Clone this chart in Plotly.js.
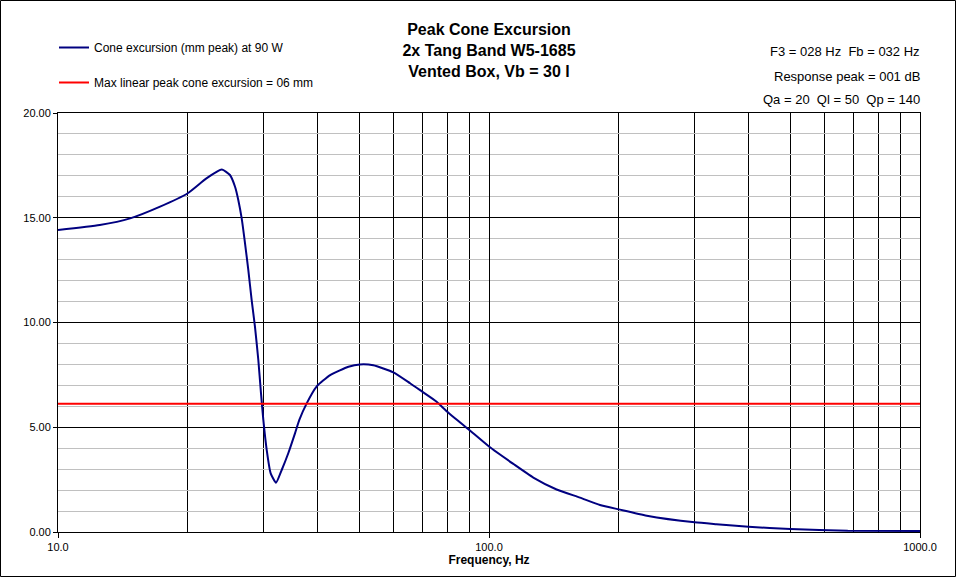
<!DOCTYPE html>
<html>
<head>
<meta charset="utf-8">
<script src="https://cdn.plot.ly/plotly-3.0.1.min.js"></script>
<style>
  html, body { margin: 0; padding: 0; background: #fff; }
  #chart { width: 957px; height: 577px; }
</style>
</head>
<body>
<div id="chart"></div>
<script>
// frequency (Hz) and peak cone excursion (mm)
const freqHz = [
  10, 12.5, 14.7, 17.25, 20, 22.1, 24.0, 25.06, 25.75, 26.2, 26.68, 27.16,
  27.64, 28.14, 28.64, 29.16, 29.58, 29.95, 30.5, 31.15, 32.05, 33.04, 34.22,
  35.47, 36.3, 37.76, 39.8, 42.8, 47.2, 50.2, 53.9, 60, 65.6, 70, 75.6, 80,
  90, 100, 113.9, 126.7, 143.5, 162.6, 180.9, 200, 232.3, 300, 337, 400, 500,
  680, 1000
];
const excursionMm = [
  14.41, 14.65, 14.97, 15.53, 16.17, 16.88, 17.30, 17.04, 16.48, 15.85, 14.97,
  13.78, 12.51, 11.07, 9.80, 8.21, 6.62, 5.35, 3.91, 2.80, 2.35, 2.96, 3.76,
  4.71, 5.35, 6.14, 6.94, 7.49, 7.89, 8.00, 7.96, 7.62, 7.10, 6.70, 6.22, 5.74,
  4.87, 4.08, 3.25, 2.60, 2.03, 1.64, 1.29, 1.08, 0.78, 0.46, 0.37, 0.25, 0.14,
  0.06, 0.05
];

const xmaxFreq = [10, 1000];
const xmaxMm = [6.12, 6.12];

const xMajorTicks = [10, 100, 1000];
const xMajorLabels = ["10.0", "100.0", "1000.0"];
const xMinorTicks = [20, 30, 40, 50, 60, 70, 80, 90, 200, 300, 400, 500, 600, 700, 800, 900];

const titleLines = ["Peak Cone Excursion", "2x Tang Band W5-1685", "Vented Box, Vb = 30 l"];
const infoLines = ["F3 = 028 Hz  Fb = 032 Hz", "Response peak = 001 dB", "Qa = 20  Ql = 50  Qp = 140"];

const FONT = "Arial, 'Liberation Sans', sans-serif";

const traces = [
  {
    x: freqHz,
    y: excursionMm,
    type: "scatter",
    mode: "lines",
    name: "Cone excursion (mm peak) at 90 W",
    legendgroup: "a",
    line: { color: "#000080", width: 2, shape: "spline", smoothing: 0.5 },
  },
  {
    x: xmaxFreq,
    y: xmaxMm,
    type: "scatter",
    mode: "lines",
    name: "Max linear peak cone excursion = 06 mm",
    legendgroup: "b",
    line: { color: "#FF0000", width: 2 },
  },
];

// plot area in pixels: left 58, right 920, top 113, bottom 532
const plotL = 58, plotR = 920, plotT = 113, plotB = 532;
const px = (x) => (x - plotL) / (plotR - plotL);
const py = (y) => (plotB - y) / (plotB - plotT);

// keep the double spaces of the original labels
const keepSpaces = (t) => t.replace(/  /g, " &nbsp;");

const layout = {
  width: 957,
  height: 577,
  margin: { l: plotL, r: 957 - plotR, t: plotT, b: 577 - plotB, pad: 0 },
  paper_bgcolor: "#fff",
  plot_bgcolor: "#fff",
  font: { family: FONT, size: 11, color: "#000" },
  showlegend: true,
  legend: {
    x: px(54),
    y: py(33),
    xanchor: "left",
    yanchor: "top",
    bgcolor: "rgba(0,0,0,0)",
    font: { family: FONT, size: 12, color: "#000" },
    traceorder: "grouped",
    tracegroupgap: 16,
    itemwidth: 30,
  },
  title: {
    text: titleLines.map((t) => "<b>" + t + "</b>").join("<br>"),
    x: px(489),
    xref: "paper",
    xanchor: "center",
    y: 1 - 35 / 577,
    yref: "container",
    yanchor: "top",
    font: { family: FONT, size: 16, color: "#000" },
  },
  xaxis: {
    type: "log",
    range: [1, 3],
    tickmode: "array",
    tickvals: xMajorTicks,
    ticktext: xMajorLabels,
    ticks: "outside",
    ticklen: 5,
    tickcolor: "#000",
    showgrid: true,
    gridcolor: "#000",
    gridwidth: 1,
    showline: true,
    linecolor: "#000",
    linewidth: 1,
    mirror: true,
    zeroline: false,
    minor: {
      tickmode: "array",
      tickvals: xMinorTicks,
      ticks: "",
      showgrid: true,
      gridcolor: "#000",
      gridwidth: 1,
    },
    tickfont: { family: FONT, size: 11 },
    title: {
      text: "<b>Frequency, Hz</b>",
      font: { family: FONT, size: 12 },
      standoff: 2,
    },
  },
  yaxis: {
    range: [0, 20],
    tickmode: "linear",
    tick0: 0,
    dtick: 5,
    tickformat: ".2f",
    ticks: "outside",
    ticklen: 4,
    tickcolor: "#000",
    showgrid: true,
    gridcolor: "#000",
    gridwidth: 1,
    showline: true,
    linecolor: "#000",
    linewidth: 1,
    mirror: true,
    zeroline: false,
    minor: {
      tickmode: "linear",
      dtick: 1,
      ticks: "",
      showgrid: true,
      gridcolor: "#C0C0C0",
      gridwidth: 1,
    },
    tickfont: { family: FONT, size: 11 },
  },
  annotations: infoLines.map((t, i) => ({
    text: keepSpaces(t),
    xref: "paper",
    yref: "paper",
    x: px(922),
    y: py([51, 76, 100][i]),
    xanchor: "right",
    yanchor: "middle",
    showarrow: false,
    font: { family: FONT, size: 13, color: "#000" },
  })),
  shapes: [
    {
      type: "rect",
      xref: "paper",
      yref: "paper",
      x0: px(0.5),
      x1: px(955.5),
      y0: py(576.5),
      y1: py(0.5),
      line: { color: "#000", width: 1 },
      fillcolor: "rgba(0,0,0,0)",
      layer: "above",
    },
  ],
};

Plotly.newPlot("chart", traces, layout, { displayModeBar: false, staticPlot: true });
</script>
</body>
</html>
